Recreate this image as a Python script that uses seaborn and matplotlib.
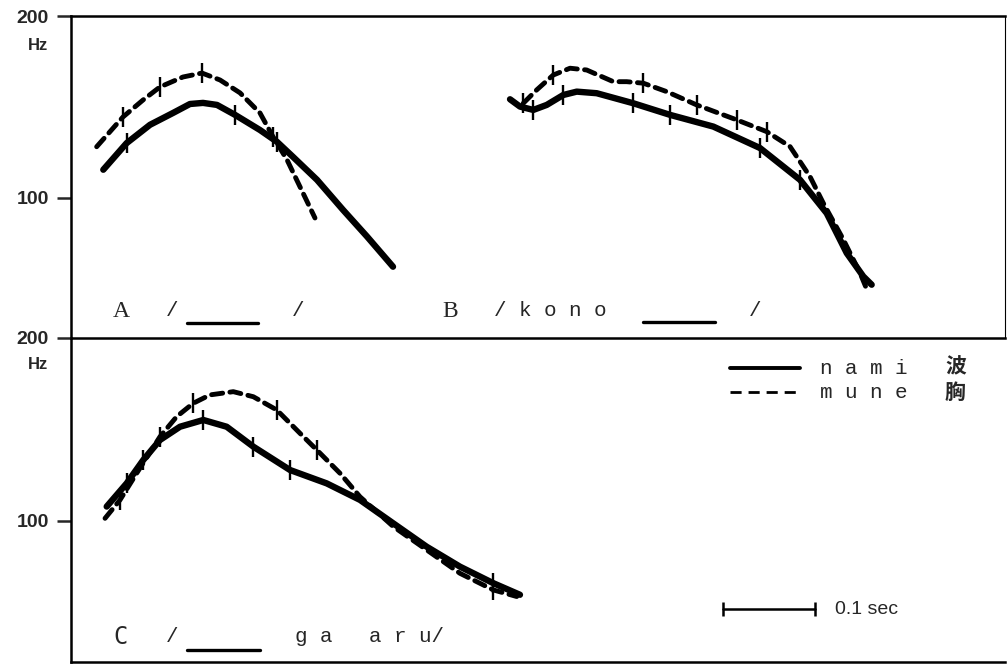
import matplotlib
matplotlib.use("Agg")
import matplotlib.pyplot as plt
from matplotlib.lines import Line2D
import seaborn as sns

# time (s) from the left axis, pitch (Hz); *_marks = indices of the small vertical ticks
a_nami_t = [0.0351, 0.0605, 0.0859, 0.1109, 0.1293, 0.1435, 0.1587, 0.1783, 0.2054, 0.2239,
            0.2413, 0.2674, 0.2957, 0.3217, 0.35]
a_nami_hz = [111.3, 123.2, 132.1, 138.2, 143.0, 143.6, 142.5, 137.2, 129.5, 123.8,
             116.9, 107.1, 95.5, 86.3, 76.9]
a_nami_marks = [1, 7, 9]
a_mune_t = [0.0279, 0.0565, 0.0783, 0.0967, 0.1217, 0.1424, 0.162, 0.1837, 0.2054, 0.2196,
            0.2348, 0.2489, 0.2652]
a_mune_hz = [121.5, 136.1, 145.2, 152.6, 158.5, 160.9, 156.7, 149.2, 138.2, 126.2,
             115.6, 104.3, 92.6]
a_mune_marks = [1, 3, 5, 9]

b_nami_t = [0.4772, 0.488, 0.5025, 0.5171, 0.5351, 0.5497, 0.5714, 0.6112, 0.6511, 0.6982,
            0.7489, 0.7924, 0.8214, 0.8432, 0.8612, 0.8703]
b_nami_hz = [145.6, 141.6, 139.8, 142.5, 148.0, 149.9, 149.0, 143.4, 137.2, 131.2,
             120.9, 107.1, 94.3, 81.0, 74.1, 71.8]
b_nami_marks = [2, 4, 7, 8, 10, 11]
b_mune_t = [0.4916, 0.5062, 0.5242, 0.5424, 0.5605, 0.5895, 0.604, 0.6221, 0.6475, 0.6801,
            0.7236, 0.7562, 0.7815, 0.8033, 0.8177, 0.8395, 0.8576, 0.8666]
b_mune_hz = [143.4, 150.9, 159.7, 163.9, 162.8, 155.7, 155.7, 154.8, 149.9, 142.5,
             134.6, 128.7, 121.6, 108.4, 98.0, 85.3, 75.1, 69.6]
b_mune_marks = [0, 2, 7, 9, 10, 11]

c_nami_t = [0.0388, 0.0605, 0.0786, 0.0967, 0.1185, 0.1438, 0.1692, 0.1982, 0.238, 0.2779,
            0.3141, 0.3503, 0.3866, 0.4228, 0.459, 0.488]
c_nami_hz = [105.6, 115.3, 126.0, 135.9, 142.9, 146.6, 142.9, 132.5, 121.3, 115.3,
             108.3, 99.1, 90.7, 84.1, 79.0, 75.6]
c_nami_marks = [1, 2, 5, 7, 8, 14]
c_mune_t = [0.037, 0.0533, 0.0714, 0.0967, 0.1149, 0.1329, 0.151, 0.1764, 0.1982, 0.2236,
            0.2489, 0.2671, 0.2924, 0.3141, 0.3503, 0.3866, 0.4228, 0.459, 0.4845]
c_mune_hz = [101.0, 108.3, 119.8, 137.6, 148.5, 156.2, 161.2, 163.2, 160.1, 152.3,
             139.4, 130.9, 119.8, 109.6, 97.9, 89.6, 82.0, 77.0, 75.1]
c_mune_marks = [1, 3, 5, 9, 11, 17]

y_ticks = [100, 200]
y_tick_labels = ["100", "200"]

sns.set_style("white")
plt.rcParams["font.family"] = ["Liberation Sans", "DejaVu Sans"]

W, H = 1007, 664
fig = plt.figure(figsize=(W / 100, H / 100), dpi=100)


def fx(px):
    return px / W


def fy(py):
    return 1 - py / H


ax_top = fig.add_axes([fx(71), fy(338), fx(1005) - fx(71), fy(16) - fy(338)])
ax_bot = fig.add_axes([fx(71), fy(662), fx(1005) - fx(71), fy(338) - fy(662)])

solid_kw = dict(color="black", lw=4.6, estimator=None, sort=False, marker="|",
                markersize=14, markeredgewidth=1.7, markeredgecolor="black",
                solid_joinstyle="round", solid_capstyle="round")
dash_kw = dict(color="black", lw=3.5, estimator=None, sort=False, marker="|",
               markersize=14, markeredgewidth=1.7, markeredgecolor="black",
               linestyle=(0, (2.3, 1.5)), dash_capstyle="round", dash_joinstyle="round")

sns.lineplot(x=a_nami_t, y=a_nami_hz, ax=ax_top, markevery=a_nami_marks, **solid_kw)
sns.lineplot(x=a_mune_t, y=a_mune_hz, ax=ax_top, markevery=a_mune_marks, **dash_kw)
sns.lineplot(x=b_nami_t, y=b_nami_hz, ax=ax_top, markevery=b_nami_marks, **solid_kw)
sns.lineplot(x=b_mune_t, y=b_mune_hz, ax=ax_top, markevery=b_mune_marks, **dash_kw)
sns.lineplot(x=c_nami_t, y=c_nami_hz, ax=ax_bot, markevery=c_nami_marks, **solid_kw)
sns.lineplot(x=c_mune_t, y=c_mune_hz, ax=ax_bot, markevery=c_mune_marks, **dash_kw)

for ax in (ax_top, ax_bot):
    ax.set_yscale("log")
    ax.set_ylim(58.6, 200)
    ax.set_xlim(0, (1005 - 71) / 920)
    ax.set_yticks(y_ticks)
    ax.set_yticklabels(y_tick_labels, fontweight="bold")
    ax.minorticks_off()
    ax.set_xticks([])
    ax.set_xlabel("")
    ax.set_ylabel("")
    ax.tick_params(axis="y", direction="out", length=10, width=1.8, labelsize=14,
                   left=True, pad=6)
    for s in ax.spines.values():
        s.set_color("black")
        s.set_linewidth(1.8)
    ax.patch.set_alpha(0)

ax_top.spines["right"].set_linewidth(0.8)
ax_bot.spines["top"].set_visible(False)
ax_bot.spines["right"].set_visible(False)

# Hz unit labels
fig.text(fx(38), fy(45), "Hz", fontsize=12, fontweight="bold", ha="center", va="center")
fig.text(fx(38), fy(365), "Hz", fontsize=12, fontweight="bold", ha="center", va="center")

mono = dict(family=["Liberation Mono", "DejaVu Sans Mono"], fontsize=15, va="center")
serif = dict(family=["Liberation Serif", "DejaVu Serif"], fontsize=17, va="center")


def underline(x0, x1, y):
    fig.add_artist(Line2D([fx(x0), fx(x1)], [fy(y), fy(y)], color="black", lw=2.4))


# panel A
fig.text(fx(113), fy(311), "A", **serif)
fig.text(fx(166), fy(310), "/", **mono)
underline(187, 258, 323)
fig.text(fx(292), fy(310), "/", **mono)
# panel B
fig.text(fx(442), fy(311), "B", **serif)
fig.text(fx(494), fy(310), "/ k o n o", **mono)
underline(643, 715, 322)
fig.text(fx(749), fy(310), "/", **mono)
# panel C
fig.text(fx(113), fy(637), "C", family=["DejaVu Sans Mono"], fontsize=17, va="center")
fig.text(fx(166), fy(636), "/", **mono)
underline(187, 260, 650)
fig.text(fx(295), fy(636), "g a", **mono)
fig.text(fx(369), fy(636), "a r u/", **mono)

# legend
fig.add_artist(Line2D([fx(730), fx(800)], [fy(368), fy(368)], color="black", lw=2.8))
fig.add_artist(Line2D([fx(730), fx(800)], [fy(392), fy(392)], color="black", lw=2.0,
                      linestyle=(0, (4, 2.5))))
fig.text(fx(820), fy(368), "n a m i", **mono)
fig.text(fx(820), fy(392), "m u n e", **mono)
cjk = ["Noto Sans CJK JP", "DejaVu Sans"]
fig.text(fx(945), fy(367), "波", family=cjk, fontsize=15, fontweight="bold", va="center")
fig.text(fx(945), fy(392), "胸", family=cjk, fontsize=15, fontweight="bold", va="center")

# time scale bar
fig.add_artist(Line2D([fx(723), fx(815)], [fy(609), fy(609)], color="black", lw=1.8,
                      marker="|", markersize=10, markeredgewidth=1.8, markevery=[0, 1]))
fig.text(fx(835), fy(609), "0.1 sec", fontsize=14, va="center")

fig.savefig("out.png", dpi=100)
